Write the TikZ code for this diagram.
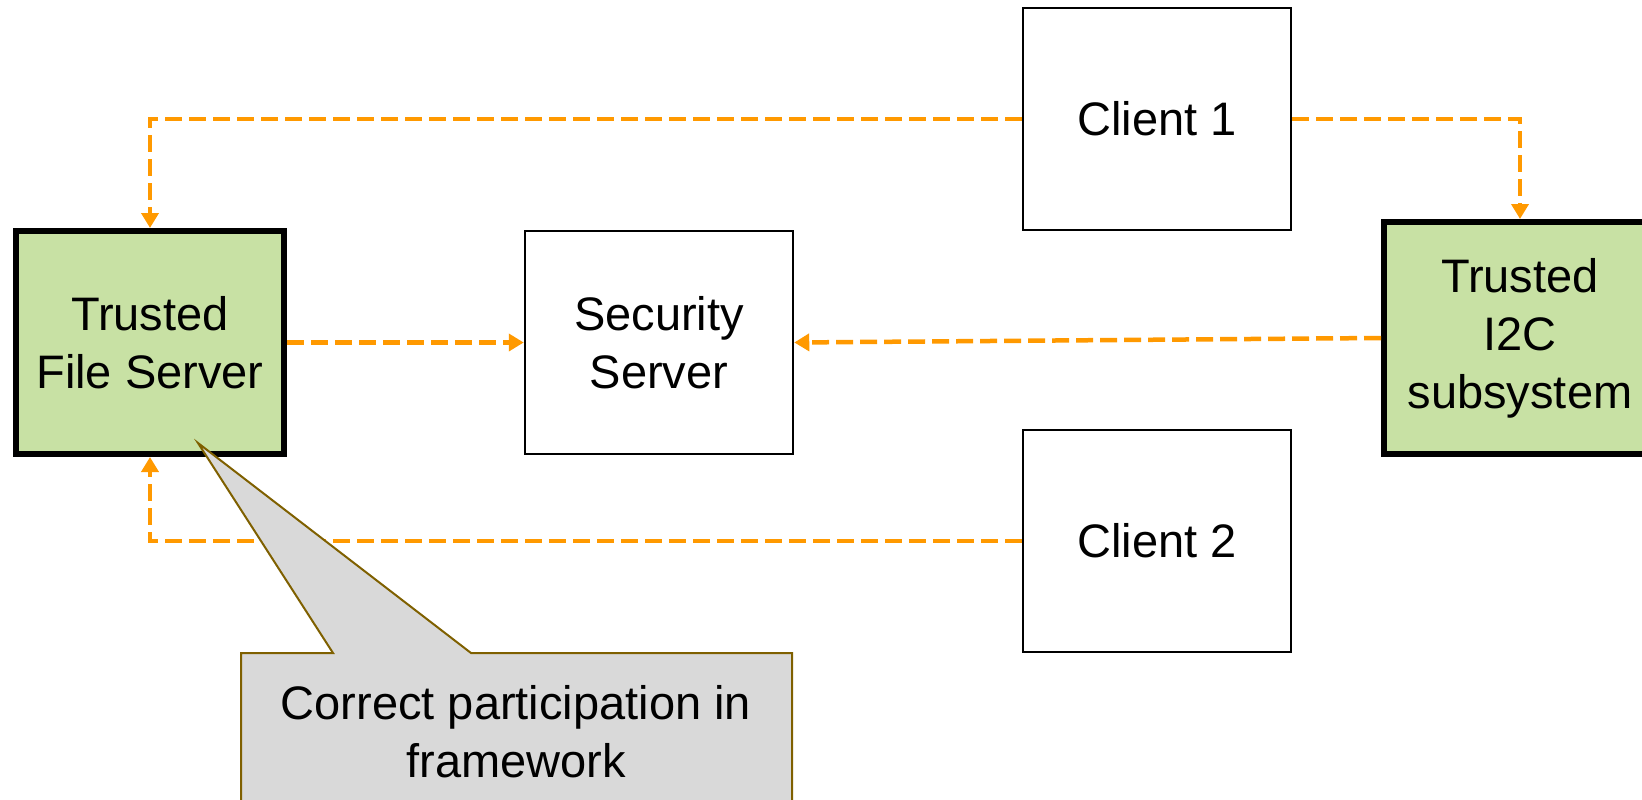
\documentclass[tikz,border=0pt]{standalone}
\usepackage{fontspec}
\setmainfont{Liberation Sans}
\usetikzlibrary{arrows.meta}
\definecolor{conncol}{HTML}{FF9900}
\definecolor{trustfill}{HTML}{C8E1A4}
\definecolor{notefill}{HTML}{D9D9D9}
\definecolor{notedraw}{HTML}{7F6000}
\tikzset{
  boxbase/.style={draw=black, rectangle, align=center, inner sep=0pt,
    minimum width=268pt, minimum height=222pt,
    font=\fontsize{47}{58}\selectfont},
  plainbox/.style={boxbase, fill=white, line width=2.5pt},
  trustbox/.style={boxbase, fill=trustfill, line width=6pt},
  conn/.style={draw=conncol, line width=4.5pt, dash pattern=on 17pt off 7pt,
    -{Triangle[width=17pt,length=15pt]}},
  notebox/.style={fill=notefill, draw=notedraw, line width=2pt, line join=miter},
  notetext/.style={align=center, font=\fontsize{47}{58}\selectfont, inner sep=0pt}
}
\begin{document}
\begin{tikzpicture}[x=1pt,y=-1pt]
\useasboundingbox (0,0) rectangle (1642,800);
\clip (0,0) rectangle (1642,800);
\node[trustbox, minimum height=223pt] (tfs) at (150,342.5) {Trusted\\File Server};
\node[plainbox, minimum height=223pt] (ss) at (659,342.5) {Security\\Server};
\node[plainbox] (c1) at (1157,119) {Client 1};
\node[plainbox] (c2) at (1157,541) {Client 2};
\node[trustbox, minimum width=272pt, minimum height=232pt] (i2c) at (1520,338) {Trusted\\I2C\\subsystem};
\draw[conn] (c1.west) -| (tfs.north);
\draw[conn] (c1.east) -| (i2c.north);
\draw[conn] (tfs.east) -- (ss.west);
\draw[conn] (i2c.west) -- (ss.east);
\draw[conn] (c2.west) -| (tfs.south);
\coordinate (tip) at (198,443);
\draw[notebox] (tip) -- (333,653) -- (241,653) -- (241,830) -- (792,830) -- (792,653) -- (471,653) -- cycle;
\node[notetext] (note) at (516,732) {Correct participation in\\framework};
\end{tikzpicture}
\end{document}
